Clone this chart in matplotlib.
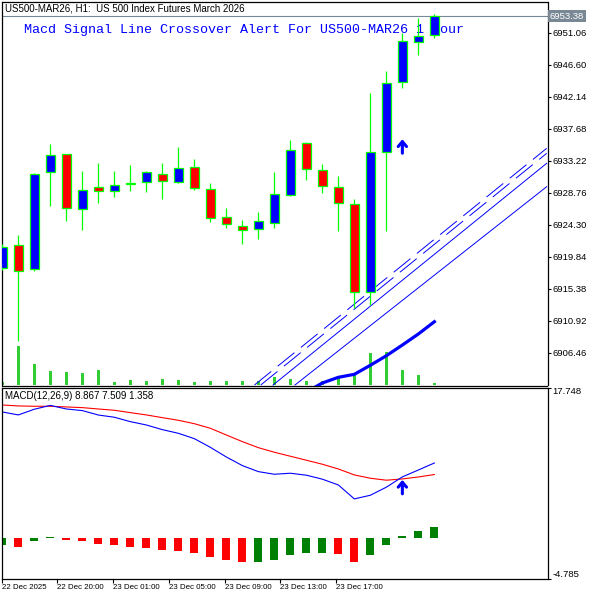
import matplotlib
matplotlib.use('Agg')
import matplotlib.pyplot as plt
import matplotlib.transforms as mtransforms
from matplotlib.patches import Rectangle
import numpy as np

plt.rcParams['font.family'] = ['Liberation Sans', 'DejaVu Sans']
plt.rcParams['lines.scale_dashes'] = False

# H1 candles, US500-MAR26
opens = [6918.24, 6921.43, 6918.09, 6931.60, 6934.11, 6926.45, 6929.51, 6928.96, 6930.02, 6930.21,
         6931.33, 6930.29, 6932.30, 6929.23, 6925.33, 6924.08, 6923.66, 6924.50, 6928.44, 6935.65,
         6931.88, 6929.51, 6927.14, 6914.88, 6934.39, 6944.19, 6949.72, 6950.74]
highs = [6921.61, 6922.87, 6931.51, 6935.55, 6934.20, 6931.74, 6932.90, 6931.74, 6932.62, 6931.79,
         6932.90, 6935.13, 6933.46, 6930.11, 6926.63, 6924.96, 6926.07, 6931.65, 6936.11, 6935.83,
         6932.76, 6931.09, 6927.88, 6942.66, 6945.72, 6950.98, 6953.11, 6953.67]
lows = [6917.99, 6908.13, 6917.89, 6926.95, 6924.86, 6923.60, 6927.37, 6928.20, 6929.04, 6928.90,
        6927.92, 6930.15, 6929.18, 6924.72, 6923.88, 6921.65, 6922.35, 6923.88, 6928.30, 6930.53,
        6928.76, 6923.46, 6912.65, 6913.11, 6923.46, 6943.35, 6947.91, 6950.28]
closes = [6921.26, 6917.81, 6931.33, 6933.97, 6926.59, 6929.18, 6928.96, 6929.79, 6930.02, 6931.60,
          6930.43, 6932.16, 6929.46, 6925.19, 6924.36, 6923.52, 6924.77, 6928.54, 6934.67, 6932.02,
          6929.69, 6927.33, 6914.88, 6934.47, 6944.01, 6949.86, 6950.56, 6953.38]
volumes = [150, 1950, 1050, 700, 650, 600, 750, 150, 250, 200,
           300, 250, 150, 200, 200, 200, 200, 400, 300, 200,
           200, 400, 500, 1600, 1650, 750, 500, 100]

# thick line at the bottom of the price window (bars 19..27)
ma_bars = [19, 20, 21, 22, 23, 24, 25, 26, 27]
ma_vals = [6900.98, 6902.24, 6903.03, 6903.45, 6904.71, 6906.04, 6907.53, 6909.07, 6910.78]

# trend / channel lines (bar, price) end points
dash_a = ([15.76, 34.02], [6901.96, 6934.95])
dash_b = ([16.15, 34.02], [6901.96, 6934.25])
solid_a = ([16.92, 34.02], [6901.96, 6932.86])
solid_b = ([18.29, 34.02], [6901.96, 6929.60])

macd_main = [14.87, 14.52, 15.19, 15.64, 15.22, 15.03, 14.51, 14.25, 13.73, 13.34,
             12.79, 12.36, 11.73, 10.71, 9.57, 8.56, 7.85, 7.54, 7.66, 7.43,
             6.96, 6.28, 4.64, 5.07, 6.02, 7.23, 8.04, 8.867]
macd_signal = [15.69, 15.58, 15.54, 15.54, 15.46, 15.38, 15.22, 15.07, 14.79, 14.52,
               14.20, 13.89, 13.49, 12.95, 12.16, 11.38, 10.67, 10.13, 9.66, 9.19,
               8.72, 8.16, 7.46, 7.07, 6.84, 6.99, 7.22, 7.509]
macd_hist = [-0.82, -1.06, -0.35, 0.10, -0.24, -0.35, -0.71, -0.82, -1.06, -1.18,
             -1.41, -1.53, -1.76, -2.24, -2.59, -2.82, -2.82, -2.59, -2.00, -1.78,
             -1.76, -1.88, -2.82, -2.00, -0.82, 0.24, 0.82, 1.358]

price_ticks = [6951.06, 6946.60, 6942.14, 6937.68, 6933.22, 6928.76, 6924.30,
               6919.84, 6915.38, 6910.92, 6906.46]
last_price = 6953.38
macd_ticks = [17.748, -4.785]
time_pos = [0, 3.44, 6.94, 10.42, 13.9, 17.38, 20.86]
time_labels = ['22 Dec 2025', '22 Dec 20:00', '23 Dec 01:00', '23 Dec 05:00',
               '23 Dec 09:00', '23 Dec 13:00', '23 Dec 17:00']
signal_bar = 25
arrow_price = 6936.2
arrow_macd = 6.87

fig = plt.figure(figsize=(6, 6), dpi=100)
ax = fig.add_axes([2 / 600, 1 - 385.5 / 600, 545.5 / 600, 383.5 / 600])
ax2 = fig.add_axes([2 / 600, 1 - 579 / 600, 545.5 / 600, 191.5 / 600])
xlim = (-0.02, 34.07)

# volumes on a hidden axis behind the candles
axv = ax.twinx()
ax.set_zorder(axv.get_zorder() + 1)
ax.patch.set_visible(False)
x = np.arange(len(opens))
axv.bar(x, volumes, width=0.18, color='#32cd32', linewidth=0)
axv.set_ylim(0, max(volumes) * 9.83)
axv.set_xlim(*xlim)
axv.axis('off')

# candles
w = 0.6
for i in range(len(opens)):
    o, h, l, c = opens[i], highs[i], lows[i], closes[i]
    ax.vlines(i, l, h, color='#00ff00', lw=0.9, zorder=3)
    if c > o:
        fc = '#0000ff'
    elif c < o:
        fc = '#ff0000'
    else:
        fc = '#00ff00'
    ax.add_patch(Rectangle((i - w / 2, min(o, c)), w, max(abs(c - o), 0.12),
                           facecolor=fc, edgecolor='#00ff00', lw=0.9, zorder=4))

ax.plot(ma_bars, ma_vals, color='#0000ff', lw=2.3, zorder=5)
for xs, ys in (dash_a, dash_b):
    ax.plot(xs, ys, color='#0000ff', lw=0.7, dashes=(15.5, 6), zorder=2)
for xs, ys in (solid_a, solid_b):
    ax.plot(xs, ys, color='#0000ff', lw=0.7, zorder=2)

ax.axhline(last_price, color='#778899', lw=0.8, zorder=1)

arrow_style = dict(arrowstyle='->,head_length=0.35,head_width=0.3', color='#0000ff', lw=2.2,
                   shrinkA=0, shrinkB=0)
ax.annotate('', xy=(signal_bar, arrow_price), xytext=(0, -10), textcoords='offset points',
            arrowprops=arrow_style, zorder=6)

ax.text(0.0055, 0.982, 'US500-MAR26, H1:  US 500 Index Futures March 2026', transform=ax.transAxes,
        fontsize=7, color='black', ha='left', va='center')
ax.text(0.0403, 0.927, 'Macd Signal Line Crossover Alert For US500-MAR26 1 Hour',
        transform=ax.transAxes, family='Liberation Mono', fontsize=9.6, color='#0000ff',
        ha='left', va='center', zorder=1)

ax.set_xlim(*xlim)
ax.set_ylim(6901.89, 6955.34)
ax.yaxis.tick_right()
ax.set_yticks(price_ticks)
ax.set_yticklabels(['%.2f' % p for p in price_ticks])
ax.tick_params(axis='y', direction='out', length=2.5, width=0.8, labelsize=6.8, pad=0.8)
ax.tick_params(axis='x', bottom=False, labelbottom=False)
for s in ax.spines.values():
    s.set_linewidth(0.9)

trans = mtransforms.blended_transform_factory(ax.transAxes, ax.transData)
ax.text(1.004, last_price, '%.2f' % last_price, transform=trans, fontsize=6.8, color='white',
        ha='left', va='center',
        bbox=dict(facecolor='#7a8896', edgecolor='none', boxstyle='square,pad=0.2'))

# MACD window
hist_colors = []
for i, v in enumerate(macd_hist):
    if i == 0 or v >= macd_hist[i - 1]:
        hist_colors.append('#008000')
    else:
        hist_colors.append('#ff0000')
ax2.bar(x, macd_hist, width=0.5, color=hist_colors, linewidth=0)
ax2.plot(x, macd_signal, color='#ff0000', lw=0.8)
ax2.plot(x, macd_main, color='#0000ff', lw=0.8)
ax2.annotate('', xy=(signal_bar, arrow_macd), xytext=(0, -10), textcoords='offset points',
             arrowprops=arrow_style, zorder=6)
ax2.text(0.0055, 0.956, 'MACD(12,26,9) %.3f %.3f %.3f' % (macd_main[-1], macd_signal[-1], macd_hist[-1]),
         transform=ax2.transAxes, fontsize=7, ha='left', va='center')

ax2.set_xlim(*xlim)
ax2.set_ylim(macd_ticks[1], macd_ticks[0])
ax2.yaxis.tick_right()
ax2.set_yticks(macd_ticks)
ax2.set_yticklabels(['%.3f' % v for v in macd_ticks])
ax2.tick_params(axis='y', direction='out', length=2.5, width=0.8, labelsize=6.8, pad=0.8)
ticks = ax2.yaxis.get_major_ticks()
ticks[0].label2.set_va('top')
ticks[1].label2.set_va('bottom')
ax2.set_xticks(time_pos)
ax2.set_xticklabels(time_labels)
ax2.tick_params(axis='x', direction='out', length=3, width=0.8, labelsize=5.7, pad=0.8)
for lab in ax2.get_xticklabels():
    lab.set_ha('left')
for s in ax2.spines.values():
    s.set_linewidth(0.9)

fig.savefig('out.png', dpi=100)
